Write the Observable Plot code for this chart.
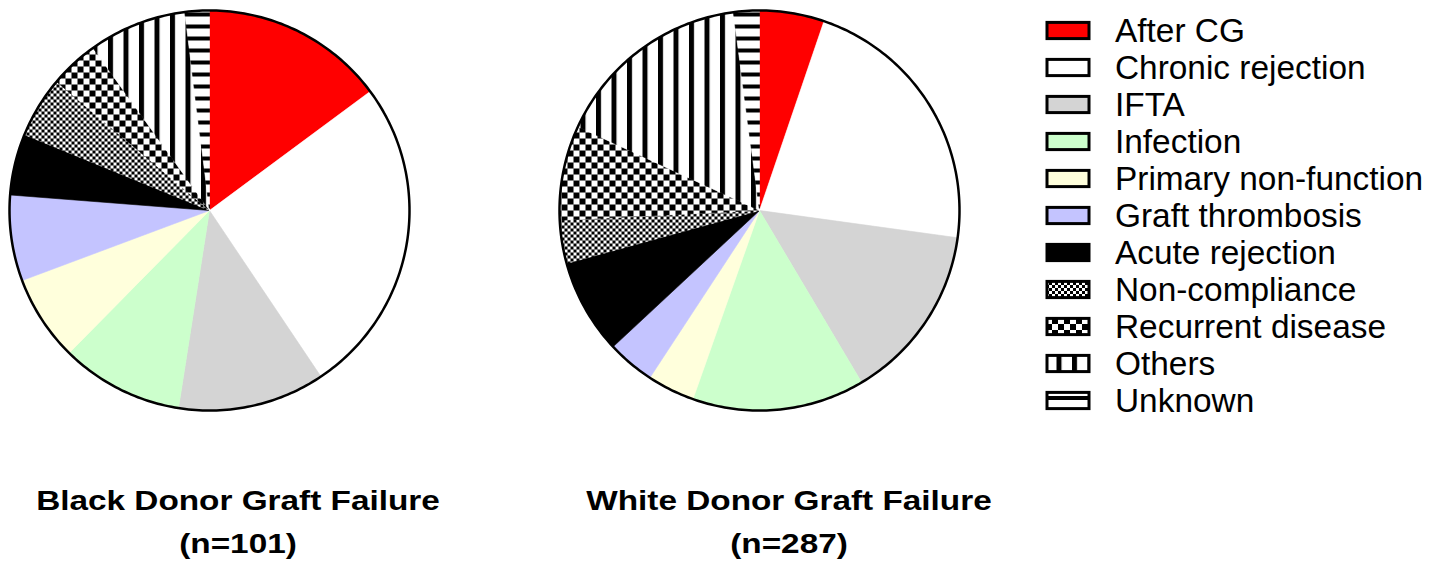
<!DOCTYPE html>
<html><head><meta charset="utf-8">
<script src="https://cdn.jsdelivr.net/npm/d3@7"></script>
<script src="https://cdn.jsdelivr.net/npm/@observablehq/plot@0.6"></script>
<style>
body{margin:0;background:#fff;}
#wrap{position:relative;width:1429px;height:565px;overflow:hidden;font-family:"Liberation Sans",Arial,sans-serif;background:#fff;}
.plotbox{position:absolute;top:0;}
.title{position:absolute;top:479px;width:500px;text-align:center;font-weight:bold;font-size:28px;line-height:43px;color:#000;transform:scaleX(1.19);}
</style></head><body>
<svg width="0" height="0" style="position:absolute"><defs>
<pattern id="pNC" patternUnits="userSpaceOnUse" width="6" height="6"><rect width="6" height="6" fill="#000"/><rect width="3" height="3" fill="#fff"/><rect x="3" y="3" width="3" height="3" fill="#fff"/></pattern>
<pattern id="pRD" patternUnits="userSpaceOnUse" width="12" height="12"><rect width="12" height="12" fill="#fff"/><rect width="6" height="6" fill="#000"/><rect x="6" y="6" width="6" height="6" fill="#000"/></pattern>
<pattern id="pOT" patternUnits="userSpaceOnUse" width="15.5" height="10"><rect width="15.5" height="10" fill="#fff"/><rect width="5" height="10" fill="#000"/></pattern>
<pattern id="pUN" patternUnits="userSpaceOnUse" width="10" height="12"><rect width="10" height="12" fill="#fff"/><rect width="10" height="4" fill="#000"/></pattern>
</defs></svg>
<div id="wrap"></div>
<script>
// ---- data ----
const causes = ["After CG", "Chronic rejection", "IFTA", "Infection", "Primary non-function",
  "Graft thrombosis", "Acute rejection", "Non-compliance", "Recurrent disease", "Others", "Unknown"];
const blackCounts = [15, 26, 12, 10, 7, 7, 5, 5, 4, 8, 2];
const whiteCounts = [15, 63, 41, 40, 11, 11, 22, 10, 22, 46, 6];
const titles = ["Black Donor Graft Failure", "White Donor Graft Failure"];
const nLabels = ["(n=101)", "(n=287)"];
const fills = ["#ff0000", "#ffffff", "#d4d4d4", "#ccffcc", "#ffffdc", "#c4c4ff", "#000000",
  "url(#pNC)", "url(#pRD)", "url(#pOT)", "url(#pUN)"];

const wrap = document.getElementById("wrap");
const colorScale = {domain: causes, range: fills};

function slicePoints(counts) {
  const arcs = d3.pie().sort(null)(counts);
  const pts = [];
  arcs.forEach((a, i) => {
    const n = Math.max(2, Math.ceil((a.endAngle - a.startAngle) / (Math.PI / 180)));
    pts.push({cause: causes[i], x: 0, y: 0});
    for (let k = 0; k <= n; k++) {
      const t = a.startAngle + (a.endAngle - a.startAngle) * k / n;
      pts.push({cause: causes[i], x: Math.sin(t), y: Math.cos(t)});
    }
    pts.push({cause: causes[i], x: 0, y: 0});
  });
  return pts;
}
const circle = d3.range(0, 361).map(d => ({x: Math.sin(d * Math.PI / 180), y: Math.cos(d * Math.PI / 180)}));

function pie(counts) {
  return Plot.plot({
    width: 420, height: 420,
    marginTop: 10, marginBottom: 10, marginLeft: 10, marginRight: 10,
    x: {domain: [-1, 1], axis: null},
    y: {domain: [-1, 1], axis: null},
    color: colorScale,
    style: {background: "transparent"},
    marks: [
      Plot.line(slicePoints(counts), {x: "x", y: "y", z: "cause", fill: "cause", stroke: "cause", strokeWidth: 0.6}),
      Plot.line(circle, {x: "x", y: "y", stroke: "black", strokeWidth: 2.5})
    ]
  });
}

[blackCounts, whiteCounts].forEach((counts, i) => {
  const box = document.createElement("div");
  box.className = "plotbox";
  box.style.left = (i === 0 ? -1 : 549) + "px";
  box.appendChild(pie(counts));
  wrap.appendChild(box);
  const t = document.createElement("div");
  t.className = "title";
  t.style.left = ((i === 0 ? 238 : 789) - 250) + "px";
  t.innerHTML = titles[i] + "<br>" + nLabels[i];
  wrap.appendChild(t);
});

// legend
const legend = Plot.plot({
  width: 419, height: 430, margin: 0,
  x: {type: "band", domain: ["sw"], range: [36.5, 78.5], padding: 0, axis: null},
  y: {type: "band", domain: causes, range: [7.8, 423.6], padding: 0, axis: null},
  color: colorScale,
  style: {background: "transparent", fontFamily: "Liberation Sans, Arial, sans-serif"},
  marks: [
    Plot.cell(causes, {x: () => "sw", y: d => d, fill: d => d, stroke: "black", strokeWidth: 3, insetTop: 10.4, insetBottom: 10.4}),
    Plot.text(causes, {x: () => "sw", y: d => d, text: d => d, textAnchor: "start", dx: 46.5, fontSize: 33.4, fill: "black"})
  ]
});
const lbox = document.createElement("div");
lbox.className = "plotbox";
lbox.style.left = "1010px";
lbox.appendChild(legend);
wrap.appendChild(lbox);
</script>
</body></html>
